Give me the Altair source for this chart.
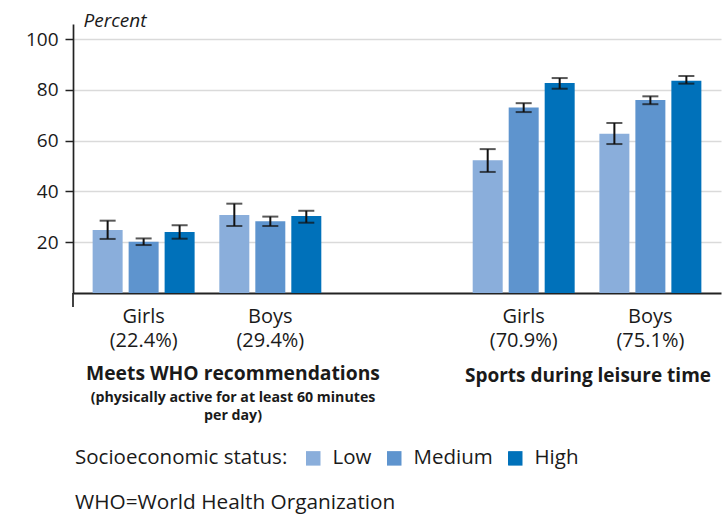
import altair as alt
import pandas as pd

# Outcome groups shown on the x axis (label text carries the overall share)
groups = ["Girls (22.4%)", "Boys (29.4%)", "Girls (70.9%)", "Boys (75.1%)"]
status = ["Low", "Medium", "High"]
colors = ["#8aaedb", "#5e94ce", "#0071ba"]

# Percent per group, ordered Low / Medium / High
pct = [
    [24.8, 20.2, 24.0],
    [30.7, 28.3, 30.3],
    [52.3, 73.1, 82.8],
    [62.8, 76.1, 83.6],
]
ci_low = [
    [21.3, 18.9, 21.4],
    [26.4, 26.4, 27.7],
    [47.7, 71.3, 80.5],
    [58.7, 74.4, 82.5],
]
ci_high = [
    [28.5, 21.5, 26.7],
    [35.2, 30.1, 32.4],
    [56.7, 74.8, 84.7],
    [67.0, 77.5, 85.5],
]

y_ticks = [20, 40, 60, 80, 100]

rows = []
for gi, g in enumerate(groups):
    for si, s in enumerate(status):
        rows.append({"group": g, "status": s, "pct": pct[gi][si],
                     "lo": ci_low[gi][si], "hi": ci_high[gi][si]})
df = pd.DataFrame(rows)

FONT = "Open Sans"
INK = "#1a1a1a"
W, H = 648, 269

# a blank slot separates the two outcomes
x_domain = groups[:2] + [" "] + groups[2:]

x_enc = alt.X(
    "group:N",
    scale=alt.Scale(domain=x_domain, paddingInner=0.195, paddingOuter=0.155),
    axis=alt.Axis(
        title=None, labelAngle=0, ticks=False, grid=False,
        labelExpr="split(datum.label, ' ')",
        labelFontSize=20, labelLineHeight=24.4, labelPadding=13.5,
        labelColor=INK, domainColor="#222", domainWidth=2,
    ),
)
xo_enc = alt.XOffset(
    "status:N", scale=alt.Scale(domain=status, paddingInner=0.1667, paddingOuter=0)
)
y_axis = alt.Axis(
    values=y_ticks, title="Percent", titleAngle=0, titleAlign="left",
    titleBaseline="alphabetic", titleX=10, titleY=2, titleFontStyle="italic",
    titleFontWeight="normal", titleFontSize=19, titleColor=INK,
    labelFontSize=19, labelColor=INK, labelPadding=7, tickSize=8,
    tickColor="#222", tickWidth=1.5, domainColor="#222", domainWidth=1.7,
    gridColor="#dadada", gridWidth=1.5,
)

base = alt.Chart(df)

bars = base.mark_bar().encode(
    x=x_enc,
    xOffset=xo_enc,
    y=alt.Y("pct:Q", scale=alt.Scale(domain=[0, 106], nice=False), axis=y_axis),
    color=alt.Color(
        "status:N",
        scale=alt.Scale(domain=status, range=colors),
        legend=alt.Legend(
            title="Socioeconomic status:", orient="none", legendX=2, legendY=424,
            direction="horizontal", titleOrient="left", titleFontSize=20.5,
            titleFontWeight="normal", titleColor=INK, titlePadding=15,
            titleLimit=500, labelLimit=300,
            labelFontSize=20.5, labelColor=INK, labelOffset=9, columnPadding=12,
            symbolType="square", symbolSize=210, symbolStrokeWidth=0,
            symbolOpacity=1,
        ),
    ),
)

err = base.mark_rule(color="#111", strokeWidth=2).encode(
    x=x_enc, xOffset=xo_enc, y="lo:Q", y2="hi:Q"
)
cap_hi = base.mark_tick(color="#111", thickness=2, size=16).encode(
    x=x_enc, xOffset=xo_enc, y="hi:Q"
)
cap_lo = base.mark_tick(color="#111", thickness=2, size=16).encode(
    x=x_enc, xOffset=xo_enc, y="lo:Q"
)

# short extension of the y axis line below the baseline
axis_stub = alt.Chart(pd.DataFrame({"k": [0]})).mark_rule(
    color="#222", strokeWidth=1.7
).encode(x=alt.value(0), y=alt.value(H), y2=alt.value(H + 14))


def note(text, x, y, size, weight="normal", align="center", line_height=None):
    kw = dict(font=FONT, fontSize=size, fontWeight=weight, color=INK,
              align=align, baseline="alphabetic")
    if line_height:
        kw.update(lineBreak="\n", lineHeight=line_height)
    return alt.Chart(pd.DataFrame({"t": [text]})).mark_text(**kw).encode(
        text="t:N", x=alt.value(x), y=alt.value(y)
    )


who_title = note("Meets WHO recommendations", 160, 356, 19.3, "bold")
who_sub = note("(physically active for at least 60 minutes\nper day)", 160, 377.7,
               14.2, "bold", line_height=18.3)
sports_title = note("Sports during leisure time", 515, 358, 19, "bold")
footnote = note("WHO=World Health Organization", 2, 485, 20.8, align="left")

chart = (
    alt.layer(bars, err, cap_hi, cap_lo, axis_stub,
              who_title, who_sub, sports_title, footnote)
    .properties(
        width=W, height=H,
        padding={"left": 73, "top": 24, "right": 6, "bottom": 222},
        autosize=alt.AutoSizeParams(type="none"),
    )
    .configure_view(stroke=None)
    .configure_axis(labelFont=FONT, titleFont=FONT)
    .configure_legend(labelFont=FONT, titleFont=FONT)
)

chart.save("out.html", embed_options={"renderer": "svg", "actions": False})
